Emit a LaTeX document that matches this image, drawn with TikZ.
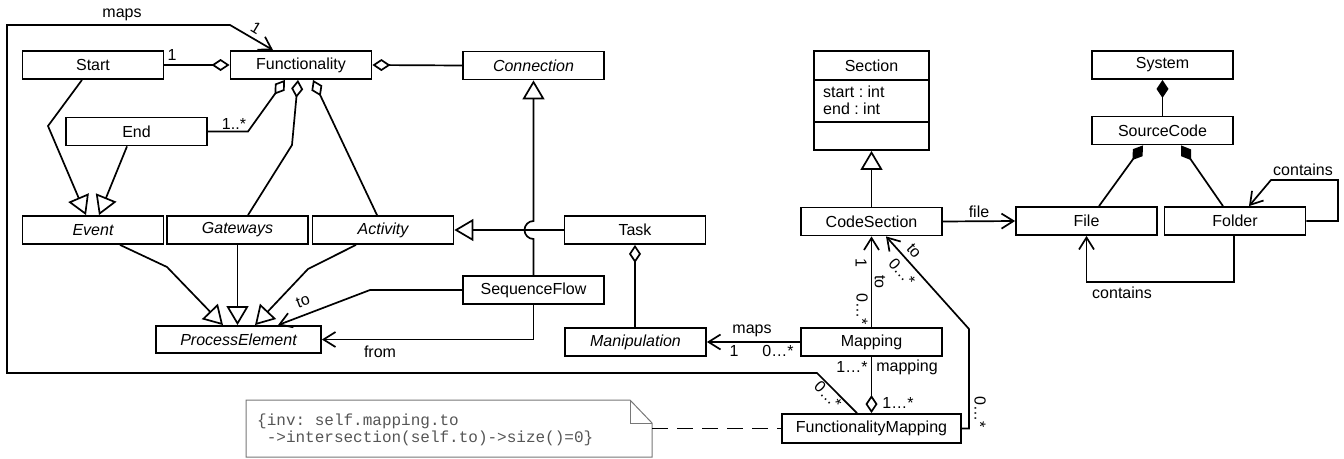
\documentclass[tikz,border=0pt]{standalone}
\usepackage{fontspec}
\setmainfont{Liberation Sans}
\newfontfamily\notefont{Liberation Mono}
\usetikzlibrary{arrows.meta}
\newcommand\cfont{\fontsize{16}{17}\selectfont}
\definecolor{notegray}{HTML}{555555}
\definecolor{noteline}{HTML}{777777}
\frenchspacing
\begin{document}
\begin{tikzpicture}[x=1pt,y=-1pt,
  cls/.style={draw, line width=1.8pt, minimum width=141pt, minimum height=28pt, inner sep=0pt, font=\cfont},
  abs/.style={cls, font=\cfont\itshape},
  lbl/.style={font=\cfont, inner sep=1pt},
  ln/.style={line width=1.7pt, line join=miter},
  gen/.style={ln, -{Triangle[open,length=19pt,width=22pt]}},
  genstart/.style={ln, {Triangle[open,length=19pt,width=22pt]}-},
  agg/.style={ln, {Diamond[open,length=18pt,width=12pt]}-},
  comp/.style={ln, {Diamond[length=18pt,width=12pt]}-},
  nav/.style={ln, -{Straight Barb[length=12pt,width=15pt]}},
  notebox/.style={draw=noteline, line width=1pt},
]
\useasboundingbox (0,0) rectangle (1344,458);

% classes
\node[cls] (start) at (93,65) {Start};
\node[cls] (func) at (301,65) {Functionality};
\node[abs] (conn) at (533.5,65.5) {Connection};
\node[cls] (end) at (136.5,131.5) {End};
\node[abs] (event) at (93,230) {Event};
\node[abs] (gate) at (237.5,230) {Gateways};
\node[abs] (act) at (383,230) {Activity};
\node[cls] (task) at (635,230) {Task};
\node[cls] (seqf) at (533.5,290) {SequenceFlow};
\node[abs, minimum width=165pt, minimum height=27pt] (pe) at (238.5,339.5) {ProcessElement};
\node[abs] (manip) at (635.5,342) {Manipulation};
\node[cls] (codesec) at (871.5,221.5) {CodeSection};
\node[cls] (mapping) at (871.5,342) {Mapping};
\node[cls, minimum width=179pt, minimum height=29pt] (fm) at (871.5,428.5) {FunctionalityMapping};
\node[cls] (file) at (1086.5,221) {File};
\node[cls] (folder) at (1235,221) {Folder};
\node[cls] (system) at (1162.5,65) {System};
\node[cls] (srccode) at (1162.5,130.5) {SourceCode};

% Section with compartments
\node[cls, minimum width=115pt, minimum height=99pt] (section) at (871.5,100.5) {};
\node[lbl] (sectitle) at (871.5,65.5) {Section};
\draw[ln] (section.west |- 0,80) -- (section.east |- 0,80);
\draw[ln] (section.west |- 0,122) -- (section.east |- 0,122);
\node[lbl, anchor=base west, inner sep=0pt] (secattra) at (823,97.5) {start : int};
\node[lbl, anchor=base west, inner sep=0pt] (secattrb) at (823,114.5) {end : int};

% aggregations of Functionality
\draw[agg] (func.west) -- (start.east);
\draw[agg] (func.east) -- (conn.west);
\draw[agg] (func.south -| 285,0) -- (248,131.5) -- (end.east);
\draw[agg] (func.south -| 298,0) -- (292,145) -- (gate.north -| 248,0);
\draw[agg] (func.south -| 313,0) -- (act.north -| 377,0);

% generalizations
\draw[gen] (start.south -| 82,0) -- (48,126) -- (event.north -| 86,0);
\draw[gen] (end.south -| 127,0) -- (event.north -| 99,0);
\draw[gen] (event.south -| 120,0) -- (167,267) -- (pe.north -| 223,0);
\draw[gen] (gate.south) -- (gate.south |- pe.north);
\draw[gen] (act.south -| 356,0) -- (308,269) -- (pe.north -| 255,0);
\draw[gen] (task.west) -- (act.east);
\draw[genstart] (conn.south) -- (conn.south |- 0,221) arc[start angle=270, end angle=90, radius=9] -- (seqf.north);
\draw[gen] (codesec.north) -- (section.south);

% sequence flow associations
\draw[nav] (seqf.west) -- (370,290) -- (pe.north -| 278,0);
\draw[nav] (seqf.south) |- (pe.east);

% Task - Manipulation
\draw[agg] (task.south) -- (task.south |- manip.north);

% Mapping associations
\draw[nav] (mapping.west) -- (manip.east);
\draw[nav] (mapping.north) -- (codesec.south);
\draw[agg] (fm.north) -- (mapping.south);
\draw[nav] (fm.east) -- (969,428.5) -- (969,329) -- (codesec.south -| 886,0);
\draw[nav] (fm.north -| 857,0) -- (817,373) -- (7,373) -- (7,25) -- (230,25) -- (func.north -| 273,0);

% source code structure
\draw[nav] (codesec.east) -- (file.west);
\draw[comp] (system.south) -- (srccode.north);
\draw[comp] (srccode.south -| 1143,0) -- (file.north -| 1099,0);
\draw[comp] (srccode.south -| 1181,0) -- (folder.north -| 1223,0);
\draw[nav] (folder.east) -- (1338,221) -- (1338,180) -- (1271,180) -- (folder.north -| 1249,0);
\draw[nav] (folder.south -| 1234,0) -- (1234,282) -- (1086.5,282) -- (file.south);

% note
\node[minimum width=406pt, minimum height=57pt, inner sep=0pt] (note) at (449,428.5) {};
\draw[notebox] (246,400) -- (630,400) -- (652,423) -- (652,457) -- (246,457) -- cycle;
\draw[notebox] (630,400) -- (630,423) -- (652,423);
\node[anchor=west, align=left, inner sep=0pt, text=notegray, font=\notefont\fontsize{16}{17}\selectfont] (notetext) at (257,429.5)
  {\{inv: self.mapping.to\\\hspace*{0.6em}->intersection(self.to)->size()=0\}};
\draw[line width=1pt, dash pattern=on 16pt off 9pt] (note.east) -- (fm.west);

% labels
\node[lbl] (lmaps) at (122,15) {maps};
\node[lbl, rotate=-31] (lmapsone) at (256,28) {1};
\node[lbl] (lstartone) at (172,55) {1};
\node[lbl] (lendmult) at (234,124) {1..*};
\node[lbl, rotate=20] (lto) at (303,301) {to};
\node[lbl] (lfrom) at (380,352) {from};
\node[lbl] (lmmaps) at (752,331) {maps};
\node[lbl] (lmone) at (734,351) {1};
\node[lbl] (lmmult) at (778,351) {0…*};
\node[lbl, rotate=-90] (lcsone) at (861,263) {1};
\node[lbl, rotate=-90] (lcsto) at (880,282) {to};
\node[lbl, rotate=-90] (lcsmult) at (862,309) {0…*};
\node[lbl, rotate=-48] (lfmto) at (914,251) {to};
\node[lbl, rotate=-48] (lfmtomult) at (902,272) {0…*};
\node[lbl] (lfile) at (979,212) {file};
\node[lbl] (lcontainsa) at (1303,170) {contains};
\node[lbl] (lcontainsb) at (1122,293) {contains};
\node[lbl] (lmapmult) at (852,367) {1…*};
\node[lbl] (lmapping) at (907,367) {mapping};
\node[lbl] (lfmmult) at (898,403) {1…*};
\node[lbl, rotate=-45] (lfmmaps) at (828,395) {0…*};
\node[lbl, rotate=-90] (lfmright) at (980,412) {0…*};
\end{tikzpicture}
\end{document}
